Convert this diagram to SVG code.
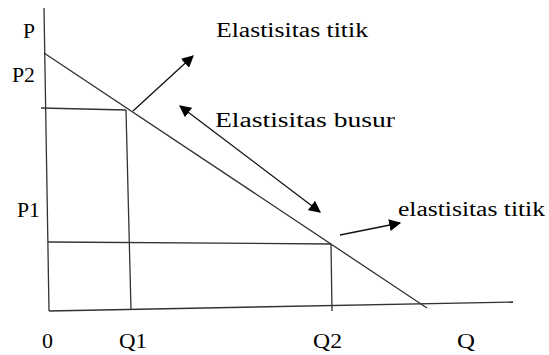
<svg xmlns="http://www.w3.org/2000/svg" width="549" height="355" viewBox="0 0 549 355">
<defs>
<marker id="ah" viewBox="0 0 10 10" refX="9" refY="5" markerWidth="12" markerHeight="12" markerUnits="userSpaceOnUse" orient="auto-start-reverse">
<path d="M0,0 L10,5 L0,10 z" fill="#000"/>
</marker>
</defs>
<style>
.ln{stroke:#333;stroke-width:1.3;fill:none}
.ar{stroke:#111;stroke-width:1.3;fill:none}
.t{font-family:'Liberation Serif','DejaVu Serif',serif;font-size:20px;fill:#000}
</style>
<rect width="549" height="355" fill="#fff"/>
<g id="axes">
<line class="ln" x1="44" y1="8" x2="49" y2="311"/>
<line class="ln" x1="49" y1="311" x2="513" y2="302"/>
</g>
<g id="demand">
<line class="ln" x1="44" y1="53" x2="427" y2="308"/>
</g>
<g id="guides">
<line class="ln" x1="41" y1="108" x2="126" y2="110"/>
<line class="ln" x1="126" y1="110" x2="131" y2="310"/>
<line class="ln" x1="48" y1="242" x2="331" y2="244"/>
<line class="ln" x1="331" y1="244" x2="332" y2="311"/>
</g>
<g id="connectors">
<line class="ar" x1="133" y1="111" x2="193" y2="56" marker-end="url(#ah)"/>
<line class="ar" x1="180" y1="106" x2="320" y2="212" marker-start="url(#ah)" marker-end="url(#ah)"/>
<line class="ar" x1="340" y1="235" x2="400" y2="223" marker-end="url(#ah)"/>
</g>
<g id="labels" class="t" font-family="Liberation Serif, DejaVu Serif, serif">
<text x="216" y="37" textLength="152" lengthAdjust="spacingAndGlyphs">Elastisitas titik</text>
<text x="215" y="127" textLength="180" lengthAdjust="spacingAndGlyphs">Elastisitas busur</text>
<text x="398" y="216" textLength="147" lengthAdjust="spacingAndGlyphs">elastisitas titik</text>
<text x="23" y="38" textLength="12" lengthAdjust="spacingAndGlyphs">P</text>
<text x="12" y="82" textLength="23" lengthAdjust="spacingAndGlyphs">P2</text>
<text x="17" y="217" textLength="23" lengthAdjust="spacingAndGlyphs">P1</text>
<text x="42" y="348" textLength="11" lengthAdjust="spacingAndGlyphs">0</text>
<text x="119" y="348" textLength="28" lengthAdjust="spacingAndGlyphs">Q1</text>
<text x="313" y="348" textLength="29" lengthAdjust="spacingAndGlyphs">Q2</text>
<text x="457" y="348" textLength="18" lengthAdjust="spacingAndGlyphs">Q</text>
</g>
</svg>
